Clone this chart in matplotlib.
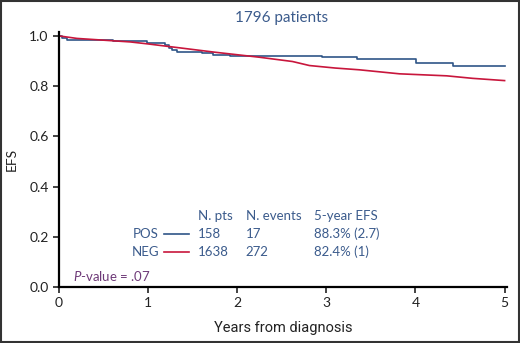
import matplotlib
matplotlib.use("Agg")
import matplotlib.pyplot as plt
from matplotlib.patches import Rectangle

# Kaplan-Meier curves
pos_t = [0, 0.03, 0.09, 0.61, 0.99, 1.19, 1.23, 1.27, 1.32, 1.61, 1.73, 1.92, 2.95, 3.34, 4.01, 4.42, 5.0]
pos_s = [1.0, 0.99, 0.985, 0.98, 0.973, 0.962, 0.952, 0.942, 0.937, 0.931, 0.924, 0.920, 0.915, 0.908, 0.894, 0.882, 0.882]

neg_t = [0, 0.2, 0.5, 0.8, 1.0, 1.25, 1.5, 1.75, 2.0, 2.25, 2.62, 2.81, 3.1, 3.37, 3.82, 4.35, 4.64, 5.0]
neg_s = [1.0, 0.99, 0.983, 0.976, 0.968, 0.957, 0.946, 0.935, 0.925, 0.915, 0.898, 0.882, 0.872, 0.865, 0.849, 0.841, 0.831, 0.822]

groups = ["POS", "NEG"]
n_pts = ["158", "1638"]
n_events = ["17", "272"]
efs5 = ["88.3% (2.7)", "82.4% (1)"]

BLUE = "#2f5587"
RED = "#c8163c"
TXT = "#3b5b8c"
PURPLE = "#6e3a78"

plt.rcParams["font.family"] = ["Lato", "DejaVu Sans"]
plt.rcParams["mathtext.fontset"] = "custom"
plt.rcParams["mathtext.rm"] = "Lato"
plt.rcParams["mathtext.it"] = "Lato:italic"

fig = plt.figure(figsize=(5.2, 3.43), dpi=100)
ax = fig.add_axes([0.1135, 0.1633, 0.862, 0.743])

ax.step(pos_t, pos_s, where="post", color=BLUE, lw=1.2)
ax.plot(neg_t, neg_s, color=RED, lw=1.2)

ax.set_xlim(0, 5.03)
ax.set_ylim(0, 1.015)
ax.set_xticks(range(6))
ax.set_yticks([0, 0.2, 0.4, 0.6, 0.8, 1.0])
ax.set_yticklabels(["0.0", "0.2", "0.4", "0.6", "0.8", "1.0"])
ax.tick_params(labelsize=10, length=4, width=1.2, colors="#222222")
for s in ["top", "right"]:
    ax.spines[s].set_visible(False)
for s in ["left", "bottom"]:
    ax.spines[s].set_linewidth(1.6)

ax.set_ylabel("EFS", fontsize=10, color="#222222", labelpad=8)
ax.set_xlabel("Years from diagnosis", fontsize=10.5, color="#222222",
              family=["Liberation Sans Narrow", "Roboto", "DejaVu Sans"], labelpad=8)

fig.text(0.542, 0.947, "1796 patients", ha="center", va="center", fontsize=11, color=TXT)

# table-like legend
tr = ax.transAxes
def ax_x(px):
    return (px - 59) / 446 * 5.0 / 5.03
def ax_y(py):
    return (287 - py) / 251 / 1.015

fs = 9.5
ax.text(ax_x(198), ax_y(216), "N. pts", transform=tr, fontsize=fs, color=TXT, va="center")
ax.text(ax_x(246), ax_y(216), "N. events", transform=tr, fontsize=fs, color=TXT, va="center")
ax.text(ax_x(314), ax_y(216), "5-year EFS", transform=tr, fontsize=fs, color=TXT, va="center")
rows_y = [234, 252]
colors = [BLUE, RED]
for g, n, e, f5, py, c in zip(groups, n_pts, n_events, efs5, rows_y, colors):
    ax.text(ax_x(159), ax_y(py), g, transform=tr, fontsize=fs, color=TXT, va="center", ha="right")
    ax.plot([ax_x(164), ax_x(189)], [ax_y(py), ax_y(py)], transform=tr, color=c, lw=1.2)
    ax.text(ax_x(198), ax_y(py), n, transform=tr, fontsize=fs, color=TXT, va="center")
    ax.text(ax_x(246), ax_y(py), e, transform=tr, fontsize=fs, color=TXT, va="center")
    ax.text(ax_x(314), ax_y(py), f5, transform=tr, fontsize=fs, color=TXT, va="center")

ax.text(ax_x(73), ax_y(276), r"$\it{P}$-value = .07", transform=tr, fontsize=fs,
        color=PURPLE, va="center")

fig.patches.append(Rectangle((0.001, 0.002), 0.997, 0.995, transform=fig.transFigure,
                             fill=False, edgecolor="#333333", lw=1.5))

fig.savefig("out.png", dpi=100)
